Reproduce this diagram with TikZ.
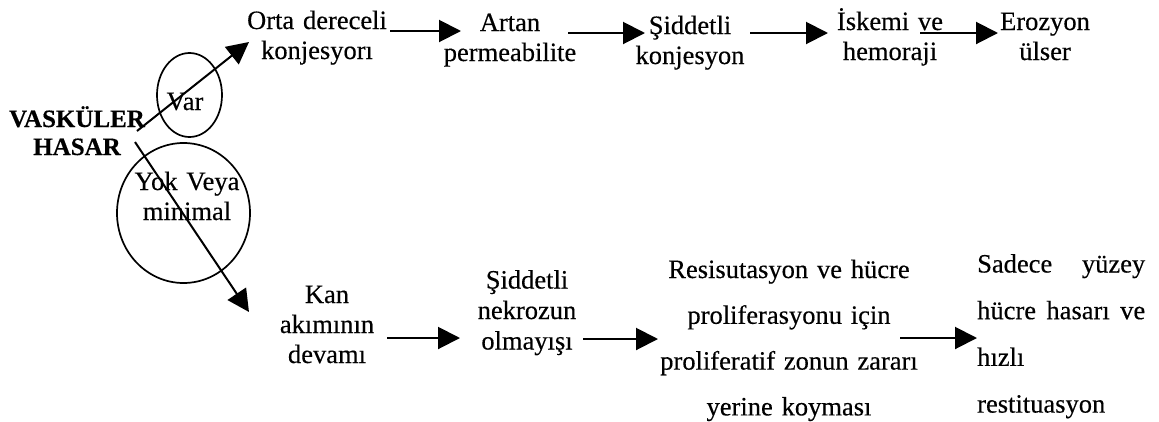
\documentclass[tikz,border=0pt]{standalone}
\usepackage{fontspec}
\setmainfont{Liberation Serif}[FakeBold=0.35]
\usetikzlibrary{arrows.meta,shapes.geometric,calc}
\hyphenpenalty=10000
\exhyphenpenalty=10000
\tikzset{
  txt/.style={inner sep=0pt, align=center, anchor=base, font=\fontsize{26.5}{30}\selectfont},
  arr/.style={line width=2pt, -{Triangle[length=22pt,width=22pt]}},
  ell/.style={draw, ellipse, line width=1.7pt, inner sep=0pt},
}
\begin{document}
\begin{tikzpicture}[x=1pt,y=-1pt]
\useasboundingbox (0,0) rectangle (1159,421);
% ellipses
\node[ell, minimum width=65pt, minimum height=84pt] (varell) at (189.5,95) {};
\node[ell, minimum width=133pt, minimum height=140pt] (yokell) at (183.5,213) {};
% top row
\node[txt, text width=160pt] (orta) at (317,29) {Orta dereceli\\konjesyorı};
\node[txt, text width=150pt] (artan) at (510,31) {Artan\\permeabilite};
\node[txt, text width=120pt] (sid1) at (690,34) {Şiddetli\\konjesyon};
\node[txt, text width=130pt] (isk) at (890,30) {İskemi ve\\hemoraji};
\node[txt, text width=110pt] (eroz) at (1045,30) {Erozyon\\ülser};
% left
\node[txt, text width=150pt, font=\fontsize{25}{28}\selectfont\bfseries] (vask) at (77,127) {VASKÜLER\\HASAR};
\node[txt] (vart) at (185,110) {Var};
\node[txt, text width=120pt] (yokt) at (187,190) {Yok Veya\\minimal};
% bottom row
\node[txt, text width=120pt, font=\fontsize{26.5}{30}\selectfont] (kan) at (327,303) {Kan\\akımının\\devamı};
\node[txt, text width=120pt, font=\fontsize{26.5}{30.5}\selectfont] (sid2) at (527,288.5) {Şiddetli\\nekrozun\\olmayışı};
\node[txt, text width=275pt, font=\fontsize{26.5}{45.8}\selectfont] (resis) at (789,278) {Resisutasyon ve hücre\\proliferasyonu için\\proliferatif zonun zararı\\yerine koyması};
\node[txt, anchor=base west, text width=168pt, align=justify, font=\fontsize{26.5}{46.7}\selectfont] (sadece) at (977,272.5) {Sadece yüzey\linebreak hücre hasarı ve\linebreak hızlı\newline restituasyon};
% connectors
\draw[arr] ($(vask.base)+(60,4)$) -- ($(orta.base)+(-68,13)$);
\draw[arr] ($(vask.base)+(58,15)$) -- ($(kan.base)+(-78,9)$);
\draw[arr] ($(orta.base)+(73,2)$) -- ($(artan.base)+(-49,0)$);
\draw[arr] ($(artan.base)+(58,2)$) -- ($(sid1.base)+(-45,-1)$);
\draw[arr] ($(sid1.base)+(60,-1)$) -- ($(isk.base)+(-62,3)$);
\draw[arr] ($(isk.base)+(30,3)$) -- ($(eroz.base)+(-47,3)$);
\draw[arr] ($(kan.base)+(60,35)$) -- ($(sid2.base)+(-67,49.5)$);
\draw[arr] ($(sid2.base)+(56,50.5)$) -- ($(resis.base)+(-131,61)$);
\draw[arr] ($(resis.base)+(111,60)$) -- ($(sadece.base west)+(0,65.5)$);
\end{tikzpicture}
\end{document}
